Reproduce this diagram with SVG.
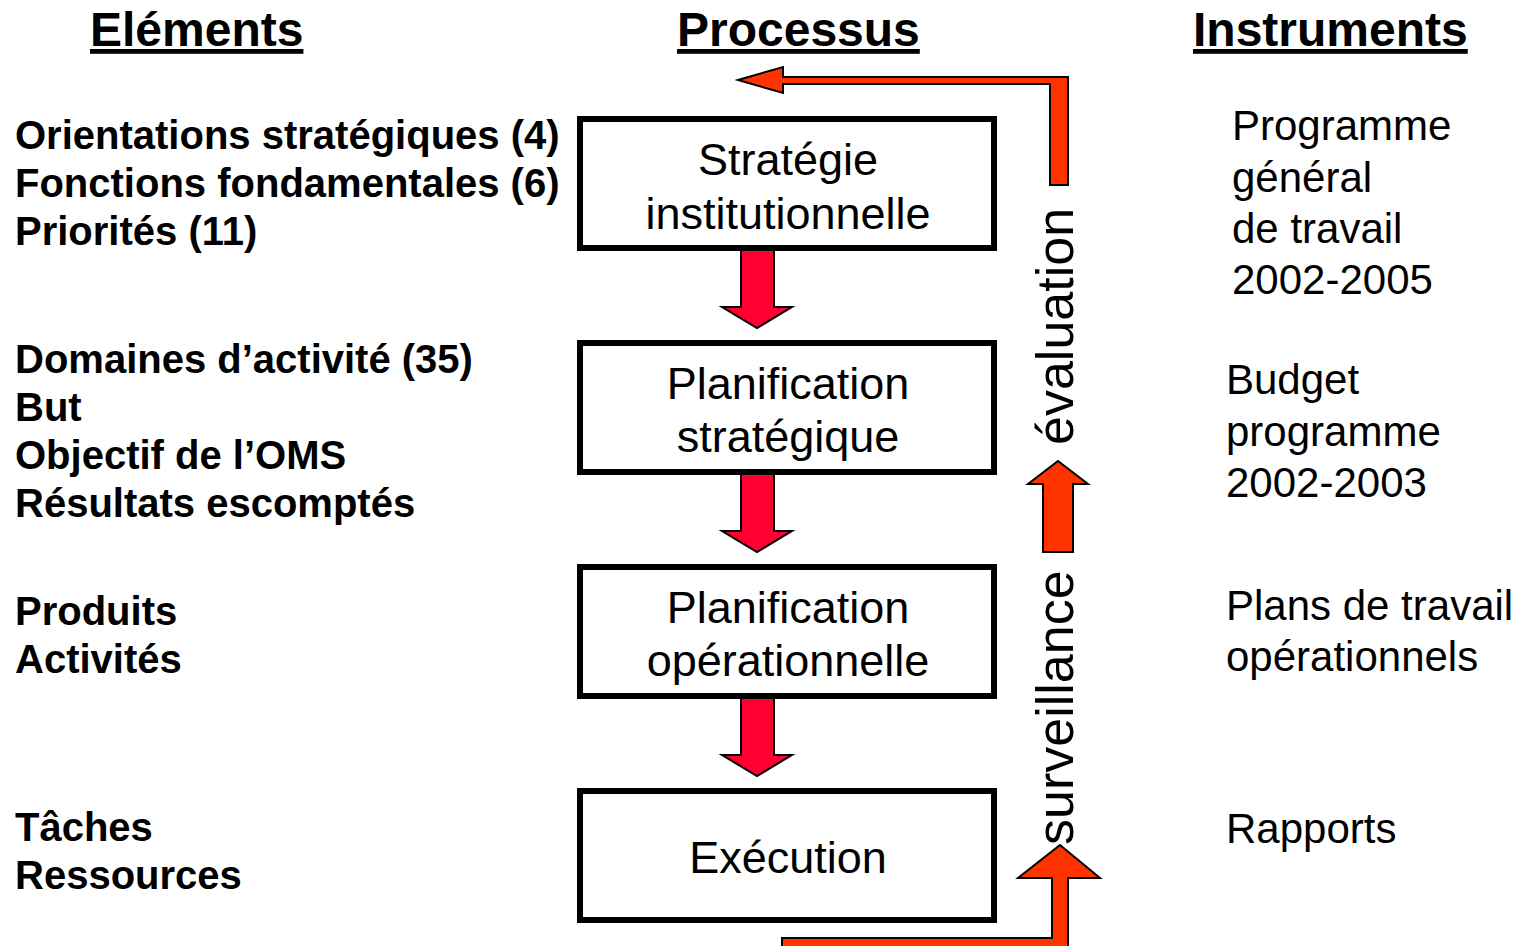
<svg xmlns="http://www.w3.org/2000/svg" width="1532" height="946" viewBox="0 0 1532 946">
<style>
.hdr{font-family:"Liberation Sans",Arial,sans-serif;font-size:48px;font-weight:bold;text-decoration:underline;fill:#000}
.el{font-family:"Liberation Sans",Arial,sans-serif;font-size:40px;font-weight:bold;fill:#000}
.ins{font-family:"Liberation Sans",Arial,sans-serif;font-size:42px;fill:#000}
.bt{font-family:"Liberation Sans",Arial,sans-serif;font-size:45px;fill:#000;text-anchor:middle}
.vt{font-family:"Liberation Sans",Arial,sans-serif;font-size:52px;fill:#000}
.box{fill:#fff;stroke:#000;stroke-width:6}
.down{fill:#FF0033;stroke:#000;stroke-width:2;stroke-linejoin:miter}
.loop{fill:#FF3300;stroke:#000;stroke-width:2;stroke-linejoin:miter}
</style>
<rect width="1532" height="946" fill="#fff"/>
<g id="headers">
<text class="hdr" x="90" y="46">Eléments</text>
<text class="hdr" x="677" y="46">Processus</text>
<text class="hdr" x="1193" y="46">Instruments</text>
</g>
<g id="elements">
<text class="el" x="15" y="149">Orientations stratégiques (4)</text>
<text class="el" x="15" y="197">Fonctions fondamentales (6)</text>
<text class="el" x="15" y="245">Priorités (11)</text>
<text class="el" x="15" y="373">Domaines d’activité (35)</text>
<text class="el" x="15" y="421">But</text>
<text class="el" x="15" y="469">Objectif de l’OMS</text>
<text class="el" x="15" y="517">Résultats escomptés</text>
<text class="el" x="15" y="625">Produits</text>
<text class="el" x="15" y="673">Activités</text>
<text class="el" x="15" y="841">Tâches</text>
<text class="el" x="15" y="889">Ressources</text>
</g>
<g id="instruments">
<text class="ins" x="1232" y="140">Programme</text>
<text class="ins" x="1232" y="192">général</text>
<text class="ins" x="1232" y="243">de travail</text>
<text class="ins" x="1232" y="294">2002-2005</text>
<text class="ins" x="1226" y="394">Budget</text>
<text class="ins" x="1226" y="446">programme</text>
<text class="ins" x="1226" y="497">2002-2003</text>
<text class="ins" x="1226" y="620">Plans de travail</text>
<text class="ins" x="1226" y="671">opérationnels</text>
<text class="ins" x="1226" y="843">Rapports</text>
</g>
<g id="connectors">
<polygon class="down" points="741,250 774,250 774,307 792,307 757,328 722,307 741,307"/>
<polygon class="down" points="741,474 774,474 774,531 792,531 757,552 722,531 741,531"/>
<polygon class="down" points="741,698 774,698 774,755 792,755 757,776 722,755 741,755"/>
<polygon class="loop" points="738,80 783,67 783,77 1068,77 1068,185 1050,185 1050,84 783,84 783,93"/>
<polygon class="loop" points="1043,552 1043,484 1028,484 1058,461 1088,484 1073,484 1073,552"/>
<polygon class="loop" points="782,938 1052,938 1052,878 1018,878 1060,845 1100,878 1068,878 1068,952 782,952"/>
</g>
<g id="node-strategie">
<rect class="box" x="580" y="119" width="414" height="129"/>
<text class="bt" x="788" y="175">Stratégie</text>
<text class="bt" x="788" y="229">institutionnelle</text>
</g>
<g id="node-planif-strat">
<rect class="box" x="580" y="343" width="414" height="129"/>
<text class="bt" x="788" y="399">Planification</text>
<text class="bt" x="788" y="452">stratégique</text>
</g>
<g id="node-planif-op">
<rect class="box" x="580" y="567" width="414" height="129"/>
<text class="bt" x="788" y="623">Planification</text>
<text class="bt" x="788" y="676">opérationnelle</text>
</g>
<g id="node-execution">
<rect class="box" x="580" y="791" width="414" height="129"/>
<text class="bt" x="788" y="873">Exécution</text>
</g>
<g id="vertical-labels">
<text class="vt" transform="translate(1073,445) rotate(-90)">évaluation</text>
<text class="vt" transform="translate(1073,845) rotate(-90)">surveillance</text>
</g>
</svg>
